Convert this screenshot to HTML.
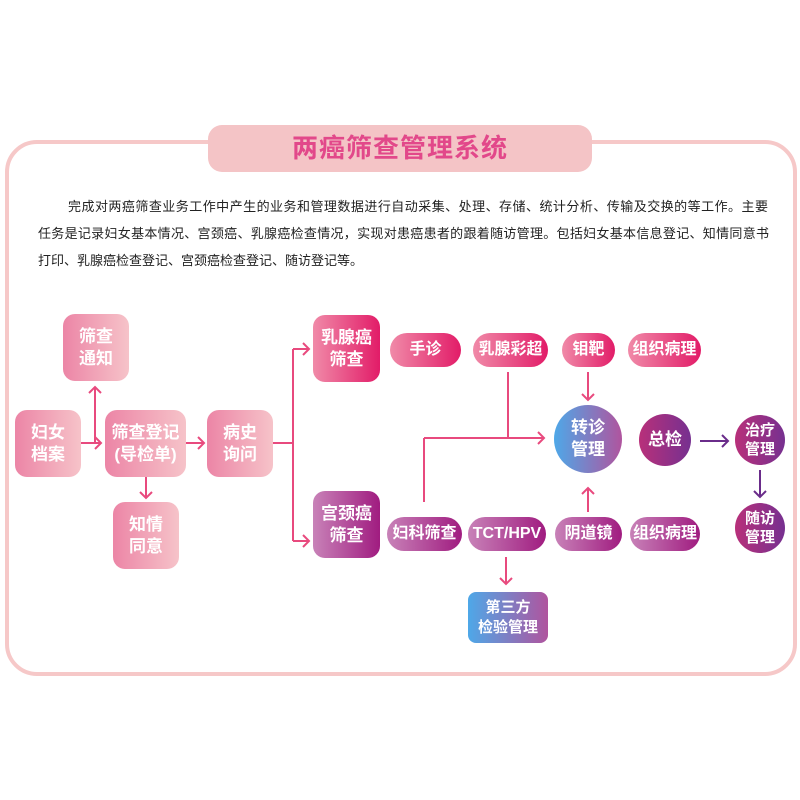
<!DOCTYPE html><html><head><meta charset="utf-8"><style>
body{margin:0;width:800px;height:800px;background:#fff;position:relative;overflow:hidden;font-family:"Liberation Sans","Noto Sans CJK SC",sans-serif}
.a{position:absolute}
.frame{left:5px;top:140px;width:784px;height:528px;border:4px solid #f6c8c8;border-radius:32px}
.title{left:208px;top:125px;width:384px;height:47px;background:#f4c4c6;border-radius:14px;color:#e2488a;font-size:26px;font-weight:bold;text-align:center;line-height:47px;letter-spacing:1px}
.ln{position:absolute;font-size:13px;line-height:20px;color:#222;text-align:justify;text-align-last:justify;white-space:nowrap}
.n{position:absolute;display:flex;align-items:center;justify-content:center;text-align:center;color:#fff;font-weight:bold;font-size:17px;line-height:22px;border-radius:12px}
.pk{background:linear-gradient(90deg,#ec85a6,#f6c3c9)}
.br{background:linear-gradient(90deg,#f08aa8,#e21c68)}
.cv{background:linear-gradient(90deg,#c882b8,#a01c80)}
.p{border-radius:17px;height:34px;top:333px;font-size:16px}
.q{border-radius:17px;height:34px;top:517px;font-size:16px}
.c{border-radius:50%}
</style></head><body>
<div class="a frame"></div>
<div class="a title">两癌筛查管理系统</div>
<div class="ln" style="left:68px;top:197px;width:700px">完成对两癌筛查业务工作中产生的业务和管理数据进行自动采集、处理、存储、统计分析、传输及交换的等工作。主要</div>
<div class="ln" style="left:38px;top:224px;width:731px">任务是记录妇女基本情况、宫颈癌、乳腺癌检查情况，实现对患癌患者的跟着随访管理。包括妇女基本信息登记、知情同意书</div>
<div class="ln" style="left:38px;top:251px;text-align:left;text-align-last:left">打印、乳腺癌检查登记、宫颈癌检查登记、随访登记等。</div>
<svg class="a" style="left:0;top:0" width="800" height="800" fill="none" stroke-width="2">
<g stroke="#e84a7e">
<path d="M81 443H101M95 443V387M146 477V497M186 443H203M273 443H293M293 349V541M293 349H309M293 541H309"/>
<path d="M95 437l6 6-6 6M89 393l6-6 6 6M140 492l6 6 6-6M198 437l6 6-6 6M303 343l6 6-6 6M303 535l6 6-6 6" />
<path d="M508 372V438M424 438H544M424 438V502M538 432l6 6-6 6M588 372V400M582 394l6 6 6-6M588 512V488M582 494l6-6 6 6M506 557V584M500 578l6 6 6-6"/>
</g>
<g stroke="#6a2c8a">
<path d="M700 441H728M722 435l6 6-6 6M760 470V497M754 491l6 6 6-6"/>
</g>
</svg>
<div class="n pk" style="left:63px;top:314px;width:66px;height:67px">筛查<br>通知</div>
<div class="n pk" style="left:15px;top:410px;width:66px;height:67px">妇女<br>档案</div>
<div class="n pk" style="left:105px;top:410px;width:81px;height:67px">筛查登记<br>(导检单)</div>
<div class="n pk" style="left:207px;top:410px;width:66px;height:67px">病史<br>询问</div>
<div class="n pk" style="left:113px;top:502px;width:66px;height:67px">知情<br>同意</div>
<div class="n br" style="left:313px;top:315px;width:67px;height:67px">乳腺癌<br>筛查</div>
<div class="n cv" style="left:313px;top:491px;width:67px;height:67px">宫颈癌<br>筛查</div>
<div class="n br p" style="left:390px;width:71px">手诊</div>
<div class="n br p" style="left:473px;width:75px">乳腺彩超</div>
<div class="n br p" style="left:562px;width:53px">钼靶</div>
<div class="n br p" style="left:628px;width:73px">组织病理</div>
<div class="n cv q" style="left:387px;width:75px">妇科筛查</div>
<div class="n cv q" style="left:468px;width:78px">TCT/HPV</div>
<div class="n cv q" style="left:555px;width:67px">阴道镜</div>
<div class="n cv q" style="left:630px;width:70px">组织病理</div>
<div class="n c" style="left:554px;top:405px;width:68px;height:68px;background:linear-gradient(90deg,#4ea8e8,#b0549e)">转诊<br>管理</div>
<div class="n c" style="left:639px;top:414px;width:52px;height:52px;background:linear-gradient(90deg,#b8307a,#763090)">总检</div>
<div class="n c" style="left:735px;top:415px;width:50px;height:50px;font-size:15px;line-height:19px;background:linear-gradient(90deg,#b8307a,#763090)">治疗<br>管理</div>
<div class="n c" style="left:735px;top:503px;width:50px;height:50px;font-size:15px;line-height:19px;background:linear-gradient(90deg,#b8307a,#763090)">随访<br>管理</div>
<div class="n" style="left:468px;top:592px;width:80px;height:51px;border-radius:8px;font-size:15px;line-height:20px;background:linear-gradient(90deg,#4ea8e8,#b0549e)">第三方<br>检验管理</div>
</body></html>
